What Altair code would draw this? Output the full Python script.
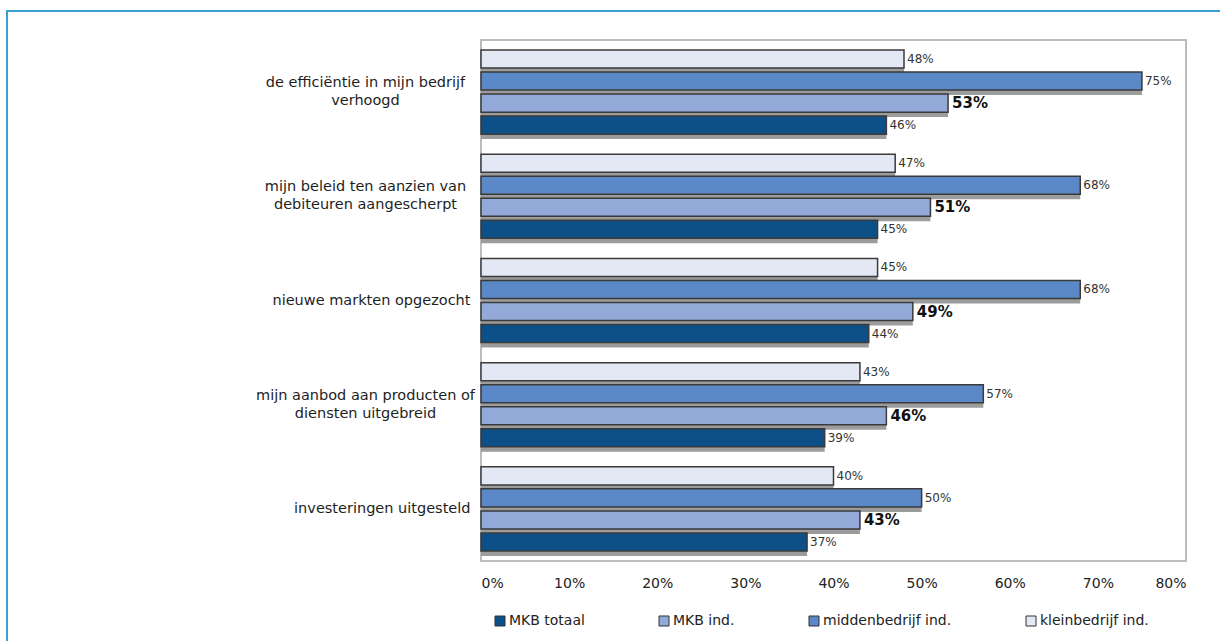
import altair as alt
import pandas as pd

# ---- data ----
categories = [
    "de efficiëntie in mijn bedrijf|verhoogd",
    "mijn beleid ten aanzien van|debiteuren aangescherpt",
    "nieuwe markten opgezocht",
    "mijn aanbod aan producten of|diensten uitgebreid",
    "investeringen uitgesteld",
]
series = ["MKB totaal", "MKB ind.", "middenbedrijf ind.", "kleinbedrijf ind."]
mkb_totaal = [46, 45, 44, 39, 37]
mkb_ind = [53, 51, 49, 46, 43]
middenbedrijf = [75, 68, 68, 57, 50]
kleinbedrijf = [48, 47, 45, 43, 40]
series_colors = ["#0d5088", "#93aad8", "#5b88c6", "#e4e8f4"]
x_ticks = [0, 10, 20, 30, 40, 50, 60, 70, 80]

values_by_series = {
    "MKB totaal": mkb_totaal,
    "MKB ind.": mkb_ind,
    "middenbedrijf ind.": middenbedrijf,
    "kleinbedrijf ind.": kleinbedrijf,
}
rows = []
for s in series:
    for c, v in zip(categories, values_by_series[s]):
        rows.append({"categorie": c, "reeks": s, "waarde": v, "label": f"{v}%"})
df = pd.DataFrame(rows)

FONT = "DejaVu Sans"
bar_order = ["kleinbedrijf ind.", "middenbedrijf ind.", "MKB ind.", "MKB totaal"]
two_line = "indexof(datum.value, '|') >= 0"

y_enc = alt.Y(
    "categorie:N",
    sort=categories,
    scale=alt.Scale(domain=categories, paddingInner=0.155, paddingOuter=0.0775),
    axis=alt.Axis(
        title=None,
        ticks=False,
        tickSize=0,
        domain=False,
        labelAlign={"condition": {"test": two_line, "value": "center"}, "value": "right"},
        labelBaseline="middle",
        labelPadding={"condition": {"test": two_line, "value": 116}, "value": 11},
        labelOffset={"condition": {"test": two_line, "value": -9}, "value": 0},
        labelExpr="split(datum.label, '|')",
        labelFont=FONT,
        labelFontSize=14.5,
        labelLineHeight=18,
        labelColor="#1e1e1e",
        labelLimit=400,
    ),
)
yoff_enc = alt.YOffset(
    "reeks:N",
    sort=bar_order,
    scale=alt.Scale(domain=bar_order, paddingInner=0.18, paddingOuter=0.09),
)
yoff_shadow = alt.YOffset(
    "reeks:N",
    sort=bar_order,
    scale=alt.Scale(domain=bar_order, paddingInner=0, paddingOuter=0, range=[3, 91]),
)
x_enc = alt.X(
    "waarde:Q",
    scale=alt.Scale(domain=[0, 80], nice=False),
    axis=alt.Axis(
        title=None,
        values=x_ticks,
        labelExpr="datum.value + '%'",
        grid=False,
        ticks=False,
        domain=False,
        labelPadding=15,
        labelFont=FONT,
        labelFontSize=14,
        labelColor="#222222",
    ),
)

base = alt.Chart(df)

shadow = base.mark_bar(color="#9c9c9c").encode(
    x=x_enc, y=y_enc, yOffset=yoff_shadow
)

bars = base.mark_bar(stroke="#3a3a3a", strokeWidth=1.5).encode(
    x=x_enc,
    y=y_enc,
    yOffset=yoff_enc,
    color=alt.Color(
        "reeks:N",
        scale=alt.Scale(domain=series, range=series_colors),
        legend=alt.Legend(
            title=None,
            orient="none",
            legendX=12,
            legendY=574,
            direction="horizontal",
            columns=4,
            columnPadding=72,
            symbolType="square",
            symbolSize=100,
            symbolStrokeColor="#333333",
            symbolStrokeWidth=1,
            labelFont=FONT,
            labelFontSize=14,
            labelColor="#222222",
            labelOffset=2,
        ),
    ),
)

labels = (
    base.transform_filter(alt.datum.reeks != "MKB ind.")
    .mark_text(align="left", baseline="middle", dx=3, font=FONT, fontSize=12, color="#333333")
    .encode(x=x_enc, y=y_enc, yOffset=yoff_enc, text="label:N")
)
labels_bold = (
    base.transform_filter(alt.datum.reeks == "MKB ind.")
    .mark_text(
        align="left", baseline="middle", dx=4, font=FONT, fontSize=15,
        fontWeight="bold", color="#111111",
    )
    .encode(x=x_enc, y=y_enc, yOffset=yoff_enc, text="label:N")
)

front = alt.layer(bars, labels, labels_bold)

frame = (
    alt.Chart(alt.Data(values=[{"f": 1}]))
    .mark_rect(fill=None, stroke="#3a9fd0", strokeWidth=2, clip=False)
    .encode(x=alt.value(-474), x2=alt.value(770), y=alt.value(-29), y2=alt.value(640))
)

chart = (
    alt.layer(frame, shadow, front)
    .resolve_scale(yOffset="independent")
    .properties(
        width=705,
        height=521,
        autosize=alt.AutoSizeParams(type="none"),
        padding={"left": 481, "top": 40, "right": 34, "bottom": 80},
        background="white",
    )
    .configure_view(stroke="#bcbcbc", strokeWidth=2)
)

chart.save("out.html", embed_options={"renderer": "svg", "actions": False})
